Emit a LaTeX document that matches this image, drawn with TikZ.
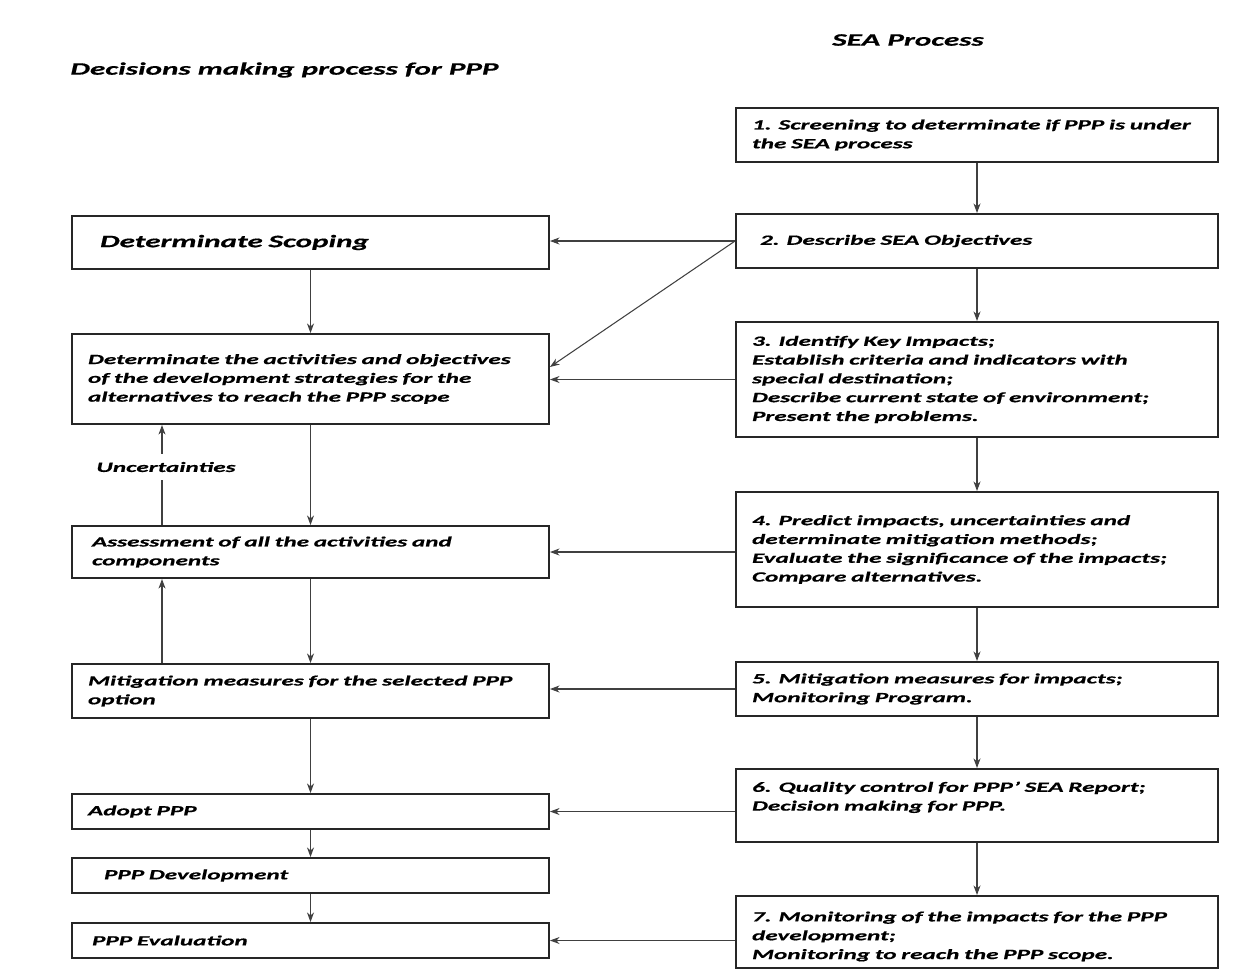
\documentclass[tikz,border=0pt]{standalone}
\usepackage{fontspec}
\setmainfont{Carlito}[FakeStretch=1.78, BoldItalicFeatures = {FakeBold = 0.6}]
\usetikzlibrary{arrows.meta}

\newcommand{\boxfont}{\fontsize{8.05}{10.7}\selectfont\bfseries\itshape}
\newcommand{\headfont}{\fontsize{9.95}{11}\selectfont\bfseries\itshape}

\tikzset{
    lbox/.style = {draw = black!85, line width = 1.1pt, inner xsep = 0.32cm, inner ysep = 0pt, text width = 8.9cm, align = left, font = \boxfont},
    rbox/.style = {lbox, text width = 9.0cm},
    link/.style = {draw = black!75, line width = 0.6pt, -{Stealth[length = 5.5pt, width = 4pt]}},
    plain/.style = {draw = black!75, line width = 0.6pt},
}

\begin{document}
\begin{tikzpicture}[x = 0.02cm, y = -0.02cm]
        \useasboundingbox (0, 0) rectangle (1247, 975);

        \node[font = \headfont] (lhead) at (284.5, 70) {Decisions making process for PPP};
        \node[font = \headfont] (rhead) at (908, 40) {SEA Process};

        \node[rbox, minimum height = 1.08cm] (s1) at (977, 135) {1. Screening to determinate if PPP is under\\the SEA process};
        \node[rbox, minimum height = 1.08cm] (s2) at (977, 241) {\hspace*{0.16cm}2. Describe SEA Objectives};
        \node[rbox, minimum height = 2.3cm] (s3) at (977, 379.5) {3. Identify Key Impacts;\\Establish criteria and indicators with\\special destination;\\Describe current state of environment;\\Present the problems.};
        \node[rbox, minimum height = 2.3cm] (s4) at (977, 549.5) {4. Predict impacts, uncertainties and\\determinate mitigation methods;\\Evaluate the significance of the impacts;\\Compare alternatives.};
        \node[rbox, minimum height = 1.08cm] (s5) at (977, 689) {5. Mitigation measures for impacts;\\Monitoring Program.};
        \node[rbox, minimum height = 1.46cm] (s6) at (977, 805.5) {6. Quality control for PPP' SEA Report;\\Decision making for PPP.\\\mbox{}};
        \node[rbox, minimum height = 1.44cm] (s7) at (977, 932) {\mbox{}\\7. Monitoring of the impacts for the PPP\\development;\\Monitoring to reach the PPP scope.};

        \node[lbox, minimum height = 1.06cm, font = \headfont] (scope) at (310.5, 242.5) {\hspace*{0.24cm}Determinate Scoping};
        \node[lbox, minimum height = 1.8cm] (act) at (310.5, 379) {Determinate the activities and objectives\\of the development strategies for the\\alternatives to reach the PPP scope};
        \node[lbox, minimum height = 1.04cm] (ass) at (310.5, 552) {\hspace*{0.08cm}Assessment of all the activities and\\\hspace*{0.08cm}components};
        \node[lbox, minimum height = 1.08cm] (mit) at (310.5, 691) {Mitigation measures for the selected PPP\\option};
        \node[lbox, minimum height = 0.7cm] (adopt) at (310.5, 811.5) {Adopt PPP};
        \node[lbox, minimum height = 0.7cm] (dev) at (310.5, 875.5) {\hspace*{0.32cm}PPP Development};
        \node[lbox, minimum height = 0.7cm] (eval) at (310.5, 940.5) {\hspace*{0.08cm}PPP Evaluation};

        \node[font = \boxfont, inner ysep = 4.5pt] (unc) at (166, 467) {Uncertainties};
        \coordinate (ux) at (162, 467);

        \draw[link] (s1) -- (s2);
        \draw[link] (s2) -- (s3);
        \draw[link] (s3) -- (s4);
        \draw[link] (s4) -- (s5);
        \draw[link] (s5) -- (s6);
        \draw[link] (s6) -- (s7);

        \draw[link] (scope) -- (act);
        \draw[link] (act) -- (ass);
        \draw[link] (ass) -- (mit);
        \draw[link] (mit) -- (adopt);
        \draw[link] (adopt) -- (dev);
        \draw[link] (dev) -- (eval);

        \draw[plain] (ass.north -| ux) -- (unc.south -| ux);
        \draw[link] (unc.north -| ux) -- (act.south -| ux);
        \draw[link] (mit.north -| ux) -- (ass.south -| ux);

        \draw[link] (s2.west) -- (s2.west -| scope.east);
        \draw[link] (s2.west) -- ([yshift = 0.24cm] act.east);
        \draw[link] (s3.west) -- (s3.west -| act.east);
        \draw[link] (s4.west |- ass.east) -- (ass.east);
        \draw[link] (s5.west) -- (s5.west -| mit.east);
        \draw[link] (s6.west |- adopt.east) -- (adopt.east);
        \draw[link] (s7.west |- eval.east) -- (eval.east);
\end{tikzpicture}
\end{document}
